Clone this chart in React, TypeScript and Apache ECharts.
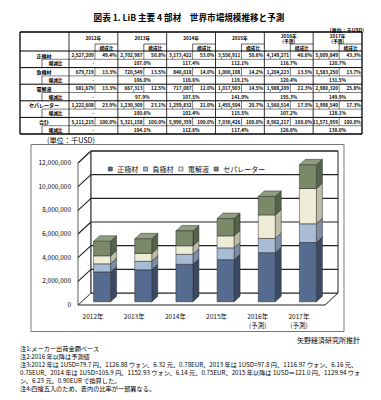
import React, { useEffect, useRef } from 'react';
import * as echarts from 'echarts';

// ---------- data ----------
const years = ['2012年', '2013年', '2014年', '2015年', '2016年', '2017年'];
const forecast = [false, false, false, false, true, true];
const materials = ['正極材', '負極材', '電解液', 'セパレーター'];
const cathode = [2527209, 2702987, 3173422, 3556911, 4149271, 5009849];
const anode = [679719, 720549, 840018, 1000108, 1204223, 1583250];
const electrolyte = [681679, 667313, 717087, 1017903, 1988209, 2980320];
const separator = [1222608, 1230309, 1259832, 1455504, 1560514, 1998540];
const seriesValues = [cathode, anode, electrolyte, separator];
const totalLabel = '合計';
const yAxisMax = 12000000;
const yAxisStep = 2000000;

const titleText = '図表 1. LiB 主要 4 部材　世界市場規模推移と予測';
const unitTop = '(単位：千USD)';
const unitChart = '(単位：千USD)';
const sourceText = '矢野経済研究所推計';
const notes = [
  '注1:メーカー出荷金額ベース',
  '注2:2016 年以降は予測値',
  '注3:2012 年は 1USD=79.7 円、1126.88 ウォン、6.32 元、0.78EUR、2013 年は 1USD=97.8 円、1116.97 ウォン、6.16 元、',
  '0.75EUR、2014 年は 1USD=105.9 円、1152.93 ウォン、6.14 元、0.75EUR、2015 年以降は 1USD＝121.0 円、1129.94 ウォ',
  'ン、6.23 元、0.90EUR で換算した。',
  '注4:四捨五入のため、表内の比率が一部異なる。',
];

// ---------- style ----------
const FONT = 'Noto Sans CJK JP, Noto Sans, sans-serif';
const frontColors = ['#556b8f', '#a9bcd6', '#eeeed8', '#7a8968'];
const sideColors = ['#3a4a64', '#7d8ea7', '#bdbca7', '#56624a'];
const topColors = ['#6f84a6', '#c0cfe3', '#f7f7ea', '#909e7f'];

const DEPTH_DX = 13, DEPTH_DY = 12;
const FRONT_DX = 3.5, FRONT_DY = 3.2;
const BAR_W = 17, BAR_DX = 6, BAR_DY = 5.5;
const Y_LABEL_RIGHT = 71;

const totals = years.map((_, c) => seriesValues.reduce((s, a) => s + a[c], 0));

function fmt(n: number) {
  return Math.round(n).toString().replace(/\B(?=(\d{3})+(?!\d))/g, ',');
}

function mkText(x: number, y: number, t: string, size: number, align = 'center', weight: any = 'normal') {
  return {
    type: 'text', silent: true, x, y, z: 50,
    style: { text: t, fontSize: size, fontFamily: FONT, fontWeight: weight, fill: '#000', align, verticalAlign: 'middle' },
  };
}

function buildGraphics() {
  const els: any[] = [];
  const line = (x1: number, y1: number, x2: number, y2: number, w = 0.6, color = '#000') =>
    els.push({ type: 'line', silent: true, shape: { x1, y1, x2, y2 }, style: { stroke: color, lineWidth: w } });
  const text = (x: number, y: number, t: string, size: number, align = 'center', weight: any = 'normal') =>
    els.push(mkText(x, y, t, size, align, weight));

  text(189, 17, titleText, 8.6, 'center', 'bold');
  text(364, 29, unitTop, 5, 'right', 'bold');

  const T = { x0: 20, x1: 362, y0: 32, ySub: 44, yHdr: 51, labelX1: 69, subLabelX: 42, valW: 26, rowH: 8.3 };
  const colW = (T.x1 - T.labelX1) / years.length;
  const colX = (c: number) => T.labelX1 + c * colW;
  const nRows = (materials.length + 1) * 2;
  const yBottom = T.yHdr + nRows * T.rowH;
  const fs = 4.7;

  years.forEach((y, c) => {
    const cx = colX(c) + colW / 2;
    if (forecast[c]) {
      text(cx, 36, y, fs, 'center', 'bold');
      text(cx, 41, '(予測)', fs, 'center', 'bold');
    } else {
      text(cx, 37.5, y, fs, 'center', 'bold');
    }
    const rx = colX(c) + T.valW;
    line(rx, T.ySub, colX(c + 1), T.ySub, 0.6);
    line(rx, T.ySub, rx, T.yHdr, 0.6);
    text(rx + (colW - T.valW) / 2, (T.ySub + T.yHdr) / 2, '構成比', fs, 'center', 'bold');
  });

  const groups = [...materials.map((m, i) => ({ name: m, vals: seriesValues[i] })), { name: totalLabel, vals: totals }];
  groups.forEach((g, gi) => {
    const yMain = T.yHdr + gi * 2 * T.rowH;
    const ySubRow = yMain + T.rowH;
    const cMain = yMain + T.rowH / 2;
    const cSub = ySubRow + T.rowH / 2;
    text(44, cMain, g.name, 5, 'center', 'bold');
    text((T.subLabelX + T.labelX1) / 2, cSub, '増減比', fs, 'center', 'bold');
    line(T.subLabelX, ySubRow, T.subLabelX, ySubRow + T.rowH, 0.6);
    line(T.subLabelX, ySubRow, T.x1, ySubRow, 0.5);
    if (gi < groups.length - 1) line(T.x0, ySubRow + T.rowH, T.x1, ySubRow + T.rowH, 1);
    years.forEach((_, c) => {
      const v = g.vals[c];
      const rx = colX(c) + T.valW;
      line(rx, yMain, rx, yMain + T.rowH, 0.5);
      text(rx - 1.2, cMain, fmt(v), fs, 'right', 'bold');
      text(colX(c + 1) - 1.2, cMain, ((v / totals[c]) * 100).toFixed(1) + '%', fs, 'right', 'bold');
      const growth = c === 0 ? '-' : ((v / g.vals[c - 1]) * 100).toFixed(1) + '%';
      text(colX(c) + colW / 2, cSub, growth, fs, 'center', 'bold');
    });
  });
  for (let c = 0; c < years.length; c++) line(colX(c), T.y0, colX(c), yBottom, 0.8);
  line(T.x0, T.yHdr, T.x1, T.yHdr, 1);
  line(T.x0, T.y0, T.x1, T.y0, 1.3);
  line(T.x0, yBottom, T.x1, yBottom, 1.3);
  line(T.x0, T.y0, T.x0, yBottom, 1.3);
  line(T.x1, T.y0, T.x1, yBottom, 1.3);

  text(47, 139.5, unitChart, 7.2, 'left');
  const F = { x0: 31, y0: 144.5, x1: 344, y1: 331.5 };
  line(F.x0, F.y0, F.x1, F.y0, 1, '#777');
  line(F.x0, F.y1, F.x1, F.y1, 1, '#777');
  line(F.x0, F.y0, F.x0, F.y1, 1, '#777');
  line(F.x1, F.y0, F.x1, F.y1, 1, '#777');

  text(360, 340, sourceText, 7, 'right');
  notes.forEach((n, i) => text(20, 348 + i * 8, n, 6.2, 'left'));
  return els;
}

const wallsSeries = {
  type: 'custom',
  name: 'walls',
  silent: true,
  clip: false,
  z: 1,
  data: [[0, 0]],
  encode: { x: 0, y: 1 },
  renderItem: (params: any, api: any) => {
    const cs = params.coordSys;
    const gx = cs.x, gw = cs.width;
    const y0 = api.coord([0, 0])[1];
    const yt = api.coord([0, yAxisMax])[1];
    const children: any[] = [];
    children.push({
      type: 'polygon',
      shape: { points: [[gx, y0], [gx + gw, y0], [gx + gw + DEPTH_DX, y0 - DEPTH_DY], [gx + DEPTH_DX, y0 - DEPTH_DY]] },
      style: { fill: '#fff', stroke: '#222', lineWidth: 1 },
    });
    children.push({
      type: 'polygon',
      shape: { points: [[gx, yt], [gx + DEPTH_DX, yt - DEPTH_DY], [gx + DEPTH_DX, y0 - DEPTH_DY], [gx, y0]] },
      style: { fill: '#fff', stroke: '#333', lineWidth: 0.8 },
    });
    children.push({
      type: 'rect',
      shape: { x: gx + DEPTH_DX, y: yt - DEPTH_DY, width: gw, height: y0 - yt },
      style: { fill: '#fff', stroke: '#222', lineWidth: 1 },
    });
    for (let v = yAxisStep; v <= yAxisMax; v += yAxisStep) {
      const y = api.coord([0, v])[1];
      children.push({ type: 'line', shape: { x1: gx, y1: y, x2: gx + DEPTH_DX, y2: y - DEPTH_DY }, style: { stroke: '#222', lineWidth: 1.1 } });
      children.push({ type: 'line', shape: { x1: gx + DEPTH_DX, y1: y - DEPTH_DY, x2: gx + gw + DEPTH_DX, y2: y - DEPTH_DY }, style: { stroke: '#222', lineWidth: 1.1 } });
    }
    return { type: 'group', children };
  },
};

const makeBarRender = (k: number) => (_params: any, api: any) => {
  const c = api.value(0), base = api.value(1), v = api.value(2);
  const pb = api.coord([c, base]);
  const pt = api.coord([c, base + v]);
  const w = BAR_W;
  const fx = pb[0] + FRONT_DX - w / 2;
  const yb = pb[1] - FRONT_DY, yt = pt[1] - FRONT_DY;
  const stroke = '#2a2a2a', lw = 0.5;
  return {
    type: 'group',
    children: [
      { type: 'polygon', shape: { points: [[fx + w, yt], [fx + w + BAR_DX, yt - BAR_DY], [fx + w + BAR_DX, yb - BAR_DY], [fx + w, yb]] }, style: { fill: sideColors[k], stroke, lineWidth: lw } },
      { type: 'polygon', shape: { points: [[fx, yt], [fx + BAR_DX, yt - BAR_DY], [fx + w + BAR_DX, yt - BAR_DY], [fx + w, yt]] }, style: { fill: topColors[k], stroke, lineWidth: lw } },
      { type: 'rect', shape: { x: fx, y: yt, width: w, height: yb - yt }, style: { fill: frontColors[k], stroke, lineWidth: lw } },
    ],
  };
};

export default function App() {
  const ref = useRef<HTMLDivElement>(null);
  useEffect(() => {
    if (!ref.current) return;
    const chart = echarts.init(ref.current, null, { renderer: 'svg' });
    const barSeries = materials.map((m, k) => ({
      type: 'custom',
      name: m,
      clip: false,
      z: 2,
      itemStyle: { color: frontColors[k], borderColor: '#333', borderWidth: 0.6 },
      encode: { x: 0, y: 1 },
      data: years.map((_, c) => {
        let base = 0;
        for (let j = 0; j < k; j++) base += seriesValues[j][c];
        return [c, base, seriesValues[k][c]];
      }),
      renderItem: makeBarRender(k),
    }));
    const baseGraphics = buildGraphics();
    chart.setOption({
      animation: false,
      backgroundColor: '#fff',
      textStyle: { fontFamily: FONT },
      grid: { left: 78, right: 56, top: 163, bottom: 95 },
      legend: {
        data: materials,
        left: 103,
        top: 160.5,
        icon: 'rect',
        itemWidth: 4,
        itemHeight: 4,
        itemGap: 5,
        itemStyle: { borderColor: '#333', borderWidth: 0.6 },
        textStyle: { fontSize: 7, fontFamily: FONT, color: '#111' },
      },
      xAxis: {
        type: 'category',
        data: years.map((y, i) => (forecast[i] ? y + '\n(予測)' : y)),
        axisLine: { show: false },
        axisTick: { show: false },
        axisLabel: { interval: 0, fontSize: 6.5, fontFamily: FONT, color: '#111', margin: 6, lineHeight: 9, padding: [0, 11, 0, 0] },
      },
      yAxis: {
        type: 'value',
        min: 0,
        max: yAxisMax,
        interval: yAxisStep,
        axisLine: { show: false },
        axisTick: { show: false },
        splitLine: { show: false },
        axisLabel: { show: false },
      },
      graphic: { elements: baseGraphics },
      series: [wallsSeries, ...barSeries],
    });
    // y-axis tick labels positioned through the chart's own value scale
    const yLabels: any[] = [];
    for (let v = 0; v <= yAxisMax; v += yAxisStep) {
      const p = chart.convertToPixel({ gridIndex: 0 }, [0, v]) as number[];
      yLabels.push(mkText(Y_LABEL_RIGHT, p[1] - 1, fmt(v), 6.5, 'right'));
    }
    chart.setOption({ graphic: { elements: [...baseGraphics, ...yLabels] } });
    return () => chart.dispose();
  }, []);
  return <div ref={ref} style={{ position: 'absolute', left: 0, top: 0, width: 381, height: 400 }} />;
}
